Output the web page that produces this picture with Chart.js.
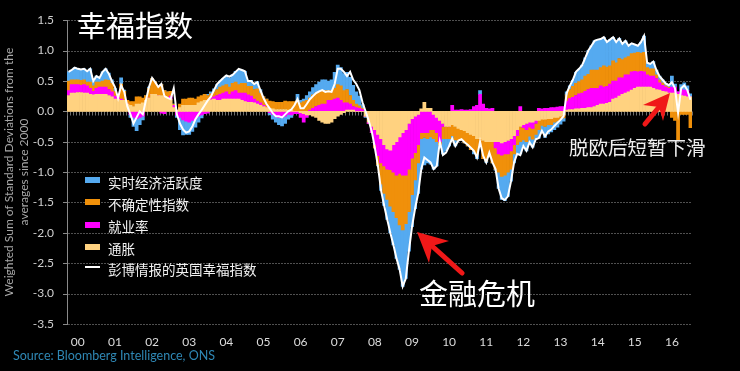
<!DOCTYPE html>
<html>
<head>
<meta charset="utf-8">
<script src="https://cdn.jsdelivr.net/npm/chart.js@4.4.1/dist/chart.umd.min.js"></script>
<style>
  html, body { margin: 0; padding: 0; background: #000; }
  #wrap { position: relative; width: 740px; height: 371px; overflow: hidden; background: #000;
          font-family: "Noto Sans CJK SC", "Noto Sans", sans-serif; }
  #chart { position: absolute; left: 0; top: 0; }
  .txt { position: absolute; white-space: nowrap; line-height: 1; color: #fff; }
  .key { position: absolute; left: 85px; width: 15px; height: 6px; }
  .lab { position: absolute; left: 108px; font-size: 13.5px; color: #f2f2f2; line-height: 1; white-space: nowrap; }
  svg { position: absolute; left: 0; top: 0; pointer-events: none; }
</style>
</head>
<body>
<div id="wrap">
  <canvas id="chart" width="740" height="371"></canvas>

  <div class="txt" style="left:77px;top:10px;font-size:29px;">幸福指数</div>
  <div class="txt" style="left:419px;top:278px;font-size:29px;">金融危机</div>
  <div class="txt" style="left:569px;top:137px;font-size:19.5px;color:#eee;">脱欧后短暂下滑</div>

  <div class="key" style="top:177px;background:#55AAF0;"></div>
  <div class="lab" style="top:176px;">实时经济活跃度</div>
  <div class="key" style="top:199px;background:#F0900A;"></div>
  <div class="lab" style="top:198px;">不确定性指数</div>
  <div class="key" style="top:222px;background:#FF00FF;"></div>
  <div class="lab" style="top:220px;">就业率</div>
  <div class="key" style="top:244px;background:#FFD280;"></div>
  <div class="lab" style="top:242px;">通胀</div>
  <div class="key" style="top:266px;height:2px;background:#fff;"></div>
  <div class="lab" style="top:263px;">彭博情报的英国幸福指数</div>

  <div class="txt" style="left:13px;top:350px;font-size:12.5px;color:#2f88b5;font-family:Lato,'Open Sans',sans-serif;">Source: Bloomberg Intelligence, ONS</div>

  <svg width="740" height="371">
    <line x1="462" y1="273" x2="432" y2="246" stroke="#f01818" stroke-width="5" stroke-linecap="round"/>
    <polygon points="417,232 449,241 432,246 429,263" fill="#f01818"/>
    <line x1="645" y1="124" x2="659" y2="107" stroke="#f01818" stroke-width="5" stroke-linecap="round"/>
    <polygon points="670,93 663,121 659,107 643,105" fill="#f01818"/>
  </svg>
</div>

<script>
// ---- data (Jan 2000 .. Oct 2016, monthly) ----
var yearTicks = ['00','01','02','03','04','05','06','07','08','09','10','11','12','13','14','15','16'];

var happiness = [
  0.65,0.68,0.72,0.70,0.69,0.70,0.66,0.70,0.50,0.58,0.55,0.65,
  0.70,0.62,0.50,0.40,0.22,0.43,0.32,0.08,-0.05,-0.20,-0.10,0.00,
  -0.05,0.18,0.40,0.55,0.48,0.40,0.45,0.25,0.22,0.20,0.38,-0.05,
  -0.20,-0.30,-0.35,-0.33,-0.25,-0.13,-0.05,0.02,0.10,0.18,0.24,0.35,
  0.45,0.50,0.55,0.59,0.57,0.60,0.65,0.70,0.68,0.66,0.50,0.50,
  0.45,0.48,0.35,0.22,0.12,0.05,-0.03,-0.08,-0.08,-0.10,-0.05,0.00,
  0.03,0.10,0.20,0.05,0.05,0.12,0.20,0.25,0.30,0.33,0.35,0.32,
  0.33,0.32,0.45,0.70,0.70,0.65,0.58,0.65,0.52,0.45,0.35,0.15,
  0.00,-0.15,-0.33,-0.60,-0.90,-1.30,-1.55,-1.78,-2.00,-2.20,-2.42,-2.60,
  -2.88,-2.75,-2.30,-1.90,-1.60,-1.35,-0.95,-0.76,-0.80,-0.84,-0.95,-0.90,
  -0.50,-0.72,-0.68,-0.57,-0.45,-0.57,-0.48,-0.46,-0.51,-0.55,-0.60,-0.65,
  -0.76,-0.50,-0.73,-0.84,-0.68,-0.84,-0.95,-1.27,-1.43,-1.46,-1.40,-1.15,
  -0.84,-0.70,-0.72,-0.57,-0.65,-0.51,-0.59,-0.46,-0.44,-0.32,-0.41,-0.33,
  -0.30,-0.24,-0.19,-0.14,-0.08,0.30,0.42,0.52,0.65,0.70,0.76,0.88,
  1.00,1.08,1.16,1.18,1.19,1.22,1.14,1.18,1.22,1.14,1.20,1.11,
  1.16,1.08,1.12,1.10,1.08,1.14,1.24,0.80,0.78,0.82,0.68,0.58,
  0.52,0.46,0.43,0.48,0.38,-0.02,0.38,0.43,0.35,0.19
];

var inflation = [
  0.26,0.30,0.30,0.31,0.31,0.30,0.30,0.28,0.27,0.28,0.28,0.28,
  0.28,0.26,0.24,0.20,0.20,0.18,0.18,0.12,0.10,0.08,0.12,0.12,
  0.14,0.18,0.22,0.28,0.28,0.26,0.26,0.24,0.22,0.20,0.06,0.02,
  0.06,0.10,0.10,0.10,0.10,0.10,0.14,0.16,0.18,0.18,0.19,0.20,
  0.18,0.18,0.20,0.20,0.20,0.20,0.20,0.20,0.18,0.16,0.15,0.15,
  0.14,0.12,0.10,0.08,0.06,0.05,0.04,0.03,0.03,0.03,0.03,0.02,
  0.02,0.00,0.00,-0.02,-0.04,-0.06,-0.06,-0.08,-0.10,-0.15,-0.18,-0.20,
  -0.20,-0.18,-0.12,-0.08,-0.05,-0.02,0.02,0.02,0.02,0.00,0.00,0.00,
  -0.08,-0.18,-0.25,-0.30,-0.38,-0.45,-0.55,-0.62,-0.64,-0.55,-0.50,-0.42,
  -0.35,-0.30,-0.20,-0.12,-0.08,-0.05,0.04,0.15,0.05,0.05,-0.05,-0.10,
  -0.15,-0.20,-0.25,-0.25,-0.22,-0.25,-0.28,-0.30,-0.32,-0.35,-0.38,-0.40,
  -0.45,-0.45,-0.48,-0.50,-0.50,-0.50,-0.50,-0.50,-0.52,-0.50,-0.48,-0.45,
  -0.40,-0.30,-0.25,-0.22,-0.20,-0.18,-0.18,-0.15,-0.15,-0.13,-0.13,-0.12,
  -0.12,-0.10,-0.10,-0.08,-0.06,0.02,0.03,0.03,0.04,0.04,0.05,0.05,
  0.06,0.06,0.08,0.10,0.12,0.12,0.13,0.15,0.20,0.22,0.25,0.28,
  0.30,0.32,0.35,0.38,0.40,0.40,0.40,0.40,0.40,0.38,0.36,0.35,
  0.33,0.32,0.30,0.30,0.30,0.28,0.26,0.25,0.24,0.24
];

var employment = [
  0.08,0.14,0.14,0.13,0.12,0.14,0.12,0.10,0.06,0.10,0.12,0.12,
  0.12,0.10,0.08,0.05,0.03,0.02,0.00,0.00,-0.05,-0.10,-0.12,-0.10,
  -0.08,0.00,0.00,0.00,0.00,0.00,-0.03,-0.04,0.00,0.05,0.04,-0.06,
  -0.10,-0.14,-0.16,-0.18,-0.15,-0.12,-0.08,-0.06,-0.04,-0.03,0.02,0.04,
  0.08,0.10,0.10,0.12,0.08,0.12,0.14,0.10,0.12,0.14,0.12,0.10,
  0.06,0.05,0.04,0.02,0.00,-0.02,-0.05,-0.08,-0.10,-0.10,-0.08,-0.05,
  -0.06,-0.04,-0.04,-0.08,-0.14,-0.04,0.02,0.05,0.08,0.10,0.12,0.12,
  0.18,0.18,0.20,0.22,0.18,0.14,0.12,0.10,0.06,0.06,0.05,0.03,
  0.00,-0.02,-0.10,-0.25,-0.35,-0.40,-0.35,-0.33,-0.32,-0.45,-0.55,-0.60,
  -0.70,-0.75,-0.75,-0.65,-0.60,-0.50,-0.35,-0.35,-0.35,-0.30,-0.25,-0.25,
  -0.35,-0.05,0.00,0.00,0.10,0.02,0.02,0.03,0.02,0.02,0.03,0.08,
  0.10,0.28,0.12,0.05,0.04,0.05,-0.10,-0.20,-0.20,-0.20,-0.22,-0.20,
  -0.15,-0.10,0.08,-0.05,-0.10,-0.08,-0.10,-0.05,0.05,0.04,0.05,0.05,
  0.06,0.06,0.07,0.08,0.08,0.15,0.18,0.20,0.22,0.25,0.25,0.28,
  0.30,0.32,0.30,0.28,0.30,0.28,0.28,0.30,0.30,0.28,0.30,0.27,
  0.30,0.28,0.30,0.28,0.25,0.26,0.25,0.20,0.18,0.20,0.18,0.12,
  0.10,0.08,0.08,0.10,0.10,0.04,0.10,0.10,0.10,0.00
];

var uncertainty = [
  0.16,0.08,0.08,0.08,0.08,0.08,0.06,0.10,0.09,0.10,0.08,0.10,
  0.12,0.15,0.14,0.08,0.02,0.25,0.15,0.06,0.06,0.08,0.12,0.12,
  0.08,0.08,0.16,0.26,0.20,0.14,0.18,0.10,0.10,0.08,0.02,0.00,
  0.06,0.10,0.10,0.12,0.12,0.10,0.10,0.10,0.10,0.08,0.08,0.08,
  0.10,0.12,0.12,0.12,0.12,0.14,0.14,0.14,0.16,0.16,0.14,0.16,
  0.16,0.20,0.16,0.14,0.14,0.12,0.12,0.12,0.12,0.12,0.14,0.14,
  0.14,0.16,0.18,0.14,0.16,0.18,0.20,0.22,0.22,0.22,0.22,0.22,
  0.16,0.16,0.18,0.22,0.24,0.20,0.22,0.14,0.10,0.06,0.04,0.02,
  0.00,0.00,0.00,-0.05,-0.15,-0.35,-0.45,-0.50,-0.60,-0.65,-0.70,-0.85,
  -0.90,-0.80,-0.70,-0.60,-0.45,-0.30,-0.10,-0.08,-0.10,-0.12,-0.15,-0.15,
  -0.05,-0.20,-0.20,-0.20,-0.18,-0.22,-0.20,-0.18,-0.20,-0.22,-0.25,-0.25,
  -0.25,-0.10,-0.30,-0.32,-0.25,-0.35,-0.35,-0.30,-0.35,-0.35,-0.30,-0.30,
  -0.15,-0.15,-0.25,-0.20,-0.20,-0.15,-0.18,-0.18,-0.15,-0.10,-0.12,-0.10,
  -0.10,-0.08,-0.06,-0.05,-0.05,0.10,0.15,0.18,0.20,0.20,0.22,0.25,
  0.25,0.30,0.30,0.30,0.30,0.35,0.32,0.30,0.33,0.30,0.32,0.30,
  0.28,0.30,0.30,0.30,0.32,0.30,0.32,0.12,0.12,0.12,0.06,0.05,
  0.04,0.02,0.02,-0.10,-0.15,-0.48,-0.05,-0.05,-0.05,-0.27
];

var activity = [
  0.15,0.16,0.20,0.18,0.18,0.18,0.18,0.22,0.08,0.10,0.07,0.15,
  0.18,0.12,0.06,0.05,0.00,0.10,0.02,0.00,-0.05,-0.15,-0.20,-0.12,
  -0.06,0.00,0.02,0.00,0.00,0.00,0.00,0.00,0.00,0.00,0.00,-0.04,
  -0.20,-0.25,-0.22,-0.20,-0.18,-0.14,-0.10,-0.05,0.00,0.02,0.03,0.05,
  0.08,0.10,0.12,0.14,0.15,0.14,0.18,0.24,0.22,0.20,0.10,0.10,
  0.10,0.12,0.06,0.00,0.00,-0.04,-0.08,-0.10,-0.12,-0.14,-0.12,-0.08,
  -0.04,0.00,0.10,0.04,0.04,0.08,0.10,0.12,0.14,0.16,0.18,0.18,
  0.16,0.18,0.26,0.32,0.30,0.28,0.28,0.30,0.25,0.20,0.16,0.06,
  -0.02,0.00,0.00,0.00,-0.02,-0.10,-0.20,-0.33,-0.44,-0.55,-0.67,-0.73,
  -0.93,-0.90,-0.65,-0.53,-0.47,-0.50,-0.50,-0.45,-0.40,-0.45,-0.50,-0.40,
  0.00,-0.25,-0.20,-0.12,-0.05,-0.10,0.00,0.00,0.00,0.00,0.00,-0.05,
  -0.08,0.06,0.00,-0.02,0.00,0.00,-0.02,-0.27,-0.38,-0.42,-0.40,-0.20,
  -0.15,-0.15,-0.20,-0.10,-0.15,-0.10,-0.13,-0.08,-0.14,-0.12,-0.18,-0.15,
  -0.12,-0.12,-0.10,-0.08,-0.05,0.05,0.06,0.10,0.18,0.20,0.24,0.30,
  0.39,0.40,0.48,0.50,0.47,0.47,0.41,0.43,0.39,0.34,0.33,0.26,
  0.28,0.18,0.17,0.14,0.11,0.18,0.27,0.08,0.08,0.12,0.08,0.06,
  0.05,0.04,0.03,0.18,0.05,0.00,0.08,0.12,0.08,0.05
];

// month labels for the category axis
var months = [];
for (var m = 0; m < happiness.length; m++) {
  months.push((2000 + Math.floor(m / 12)) + '-' + String(m % 12 + 1).padStart(2, '0'));
}

// dotted grid, y tick marks, month ticks on the zero line, y axis title
var decor = {
  id: 'decor',
  beforeDatasetsDraw: function (chart) {
    var ctx = chart.ctx, x = chart.scales.x, y = chart.scales.y, area = chart.chartArea;
    ctx.save();
    ctx.lineWidth = 1;
    y.ticks.forEach(function (t) {
      var py = Math.round(y.getPixelForValue(t.value)) + 0.5;
      ctx.strokeStyle = '#505050';
      ctx.setLineDash([2, 1]);
      ctx.beginPath(); ctx.moveTo(area.left + 1, py); ctx.lineTo(area.right, py); ctx.stroke();
      ctx.setLineDash([]);
      ctx.strokeStyle = '#8a8a8a';
      ctx.beginPath(); ctx.moveTo(area.left - 4, py); ctx.lineTo(area.left, py); ctx.stroke();
    });
    var y0 = Math.round(y.getPixelForValue(0)) + 0.5;
    var step = (x.right - x.left) / months.length;
    ctx.strokeStyle = '#6e6e6e';
    for (var i = 0; i <= months.length; i++) {
      var px = Math.round(x.left + i * step) + 0.5;
      ctx.beginPath(); ctx.moveTo(px, y0); ctx.lineTo(px, y0 + 4); ctx.stroke();
    }
    ctx.restore();
  },
  afterDraw: function (chart) {
    var ctx = chart.ctx;
    ctx.save();
    ctx.fillStyle = '#a8a8a8';
    ctx.font = '12px Lato, "Open Sans", sans-serif';
    ctx.textAlign = 'center';
    ctx.textBaseline = 'middle';
    ctx.translate(9, 172); ctx.rotate(-Math.PI / 2);
    ctx.fillText('Weighted Sum of Standard Deviations from the', 0, 0);
    ctx.fillText('averages since 2000', 0, 15);
    ctx.restore();
  }
};

var barBase = { type: 'bar', categoryPercentage: 1, barPercentage: 1, borderWidth: 0, stack: 'bars' };

new Chart(document.getElementById('chart'), {
  data: {
    labels: months,
    datasets: [
      { type: 'line', label: '彭博情报的英国幸福指数', data: happiness, borderColor: '#ffffff',
        borderWidth: 2, pointRadius: 0, tension: 0, fill: false, stack: 'line' },
      Object.assign({ label: '通胀', data: inflation, backgroundColor: '#FFD280' }, barBase),
      Object.assign({ label: '就业率', data: employment, backgroundColor: '#FF00FF' }, barBase),
      Object.assign({ label: '不确定性指数', data: uncertainty, backgroundColor: '#F0900A' }, barBase),
      Object.assign({ label: '实时经济活跃度', data: activity, backgroundColor: '#55AAF0' }, barBase)
    ]
  },
  options: {
    responsive: false,
    animation: false,
    layout: { padding: { top: 16, right: 48, bottom: 19, left: 0 } },
    plugins: { legend: { display: false }, tooltip: { enabled: false } },
    scales: {
      x: {
        stacked: true,
        grid: { display: false, drawTicks: false },
        border: { display: false },
        ticks: {
          autoSkip: false, maxRotation: 0, minRotation: 0, padding: 11,
          color: '#dcdcdc', font: { family: 'Lato', size: 12 },
          callback: function (v, i) { return i % 12 === 3 ? yearTicks[(i - 3) / 12] : ''; }
        },
        afterFit: function (s) { s.height = 28; }
      },
      y: {
        stacked: true,
        min: -3.5, max: 1.5,
        ticks: {
          stepSize: 0.5, padding: 13, color: '#cfcfcf', font: { family: 'Lato', size: 12 },
          callback: function (v) { return v.toFixed(1); }
        },
        grid: { display: false, drawTicks: false },
        border: { display: true, color: '#8a8a8a' },
        afterFit: function (s) { s.width = 67; }
      }
    }
  },
  plugins: [decor]
});
</script>
</body>
</html>
